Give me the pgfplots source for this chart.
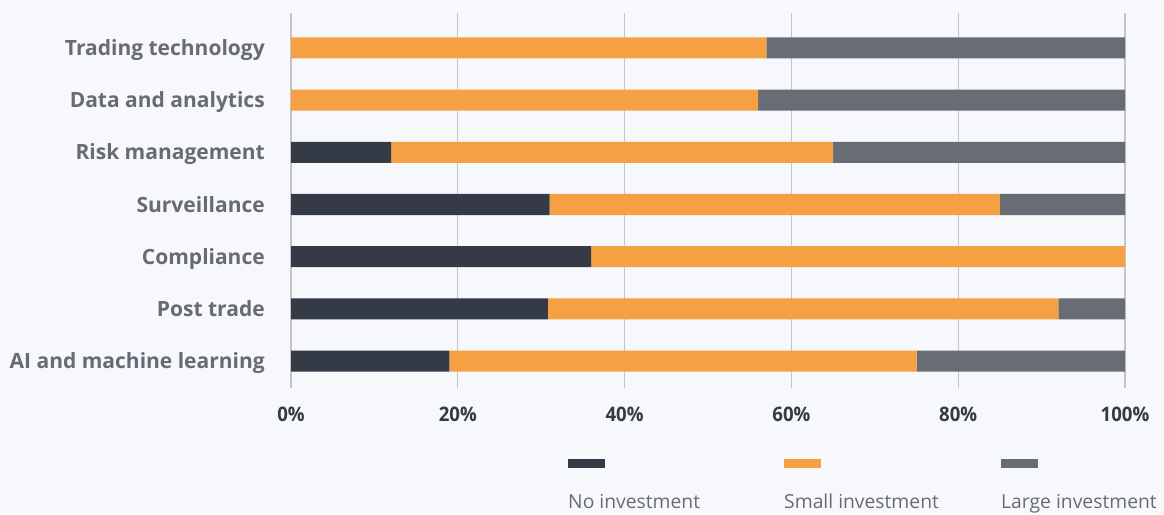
\documentclass[border=0pt]{standalone}
\usepackage{fontspec}
\setmainfont{Open Sans}
\usepackage{pgfplots}
\pgfplotsset{compat=1.18}
\definecolor{bg}{HTML}{F7F8FB}
\definecolor{cno}{HTML}{343A46}
\definecolor{csmall}{HTML}{F5A042}
\definecolor{clarge}{HTML}{686C75}
\definecolor{lbl}{HTML}{686B75}
\definecolor{gridc}{HTML}{C3C5CA}
\pgfplotstableread{
y no small large
0 19 56 25
1 30.8 61.2 8
2 36 64 0
3 31 54 15
4 12 53 35
5 0 56 44
6 0 57 43
}\datatable
\begin{document}
\begin{tikzpicture}[x=1pt,y=1pt]
\fill[bg] (0,0) rectangle (1164,514);
\begin{axis}[at={(291pt,126pt)}, anchor=south west, scale only axis,
  width=834pt, height=375pt,
  xbar stacked, bar width=21pt,
  xmin=0, xmax=100, ymin=-0.5175, ymax=6.671,
  xtick={0,20,...,100},
  /pgf/number format/assume math mode=true,
  xticklabel={\scalebox{0.93}[1]{\pgfmathprintnumber{\tick}\%}},
  ytick={0,...,6},
  yticklabels={AI and machine learning, Post trade, Compliance, Surveillance, Risk management, Data and analytics, Trading technology},
  xmajorgrids, major grid style={gridc, line width=1.2pt},
  axis line style={draw=none}, major tick style={draw=none},
  xticklabel style={font=\fontsize{20}{22}\selectfont\bfseries, text=cno, anchor=center, yshift=-26pt, text height=14.3pt, text depth=0pt},
  yticklabel style={font=\fontsize{21}{24}\selectfont\bfseries, text=lbl, anchor=east, xshift=-22.7pt, text height=15pt, text depth=0pt},
  clip=false,
]
\addplot[fill=cno, draw=none] table[x=no, y=y] {\datatable};
\addplot[fill=csmall, draw=none] table[x=small, y=y] {\datatable};
\addplot[fill=clarge, draw=none] table[x=large, y=y] {\datatable};
\end{axis}
\fill[cno] (568,46) rectangle (605,55);
\fill[csmall] (784,46) rectangle (821,55);
\fill[clarge] (1001,46) rectangle (1038,55);
\node[anchor=base west, inner sep=0pt, text=lbl, font=\fontsize{19.3}{22}\selectfont] at (568,6) {No investment};
\node[anchor=base west, inner sep=0pt, text=lbl, font=\fontsize{19.3}{22}\selectfont] at (784,6) {Small investment};
\node[anchor=base west, inner sep=0pt, text=lbl, font=\fontsize{19.3}{22}\selectfont] at (1001,6) {Large investment};
\end{tikzpicture}
\end{document}
